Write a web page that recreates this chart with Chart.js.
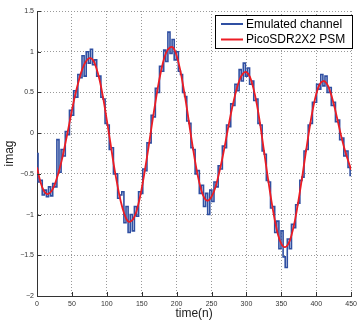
<!DOCTYPE html>
<html>
<head>
<meta charset="utf-8">
<script src="https://cdn.jsdelivr.net/npm/chart.js@4.4.0/dist/chart.umd.min.js"></script>
<style>
  body { margin: 0; background: #fff; }
  canvas { display: block; }
</style>
</head>
<body>
<canvas id="chart" width="361" height="321"></canvas>
<script>
// temps (n) des echantillons
const emulatedTime = [0,3,6,9,12,15,18,21,24,27,30,33,36,39,42,45,48,51,54,57,60,63,66,69,72,75,78,81,84,87,
  90,93,96,99,102,105,108,111,114,117,120,123,126,129,132,135,138,141,144,147,150,153,156,159,162,165,168,171,174,177,
  180,183,186,189,192,195,198,201,204,207,210,213,216,219,222,225,228,231,234,237,240,243,246,249,252,255,258,261,264,267,
  270,273,276,279,282,285,288,291,294,297,300,303,306,309,312,315,318,321,324,327,330,333,336,339,342,345,348,351,354,357,
  360,363,366,369,372,375,378,381,384,387,390,393,396,399,402,405,408,411,414,417,420,423,426,429,432,435,438,441,444,447,450];
const emulatedImag = [-0.25,-0.60,-0.58,-0.76,-0.70,-0.78,-0.66,-0.77,-0.62,-0.66,-0.08,-0.48,-0.20,-0.28,0.02,-0.02,0.28,0.22,0.52,0.44,
  0.72,0.68,0.95,0.70,1.00,0.86,1.03,0.84,0.90,0.70,0.70,0.44,0.42,0.12,0.10,-0.20,-0.18,-0.50,-0.50,-0.80,
  -0.76,-0.72,-1.10,-0.90,-1.22,-1.00,-1.20,-0.90,-1.02,-0.72,-0.74,-0.44,-0.46,-0.12,-0.12,0.22,0.20,0.55,0.50,0.82,
  0.76,1.02,0.88,1.24,0.98,1.15,0.90,1.00,0.76,0.72,0.50,0.45,0.15,0.12,-0.18,-0.20,-0.50,-0.46,-0.74,-0.64,
  -0.90,-0.74,-1.00,-0.70,-0.84,-0.60,-0.66,-0.40,-0.44,-0.16,-0.18,0.10,0.08,0.36,0.34,0.60,0.52,0.78,0.64,0.86,
  0.70,0.80,0.60,0.64,0.40,0.42,0.12,0.10,-0.22,-0.26,-0.58,-0.60,-0.92,-0.90,-1.22,-1.08,-1.42,-1.20,-1.52,-1.65,
  -1.30,-1.42,-1.12,-1.16,-0.88,-0.86,-0.58,-0.54,-0.22,-0.20,0.10,0.12,0.38,0.38,0.60,0.54,0.72,0.58,0.70,0.50,
  0.56,0.34,0.38,0.14,0.16,-0.08,-0.06,-0.28,-0.22,-0.42,-0.52];

const psmTime = [0,5,10,15,20,25,30,35,40,45,50,55,60,65,70,75,80,85,90,95,100,105,110,115,120,125,130,135,140,145,
  150,155,160,165,170,175,180,185,190,195,200,205,210,215,220,225,230,235,240,245,250,255,260,265,270,275,280,285,290,295,
  300,305,310,315,320,325,330,335,340,345,350,355,360,365,370,375,380,385,390,395,400,405,410,415,420,425,430,435,440,445,450];
const psmImag = [-0.42,-0.60,-0.71,-0.75,-0.72,-0.64,-0.51,-0.35,-0.15,0.06,0.28,0.48,0.65,0.79,0.88,0.92,0.90,0.80,0.64,0.42,
  0.16,-0.11,-0.39,-0.63,-0.84,-0.99,-1.08,-1.08,-1.02,-0.88,-0.68,-0.43,-0.16,0.13,0.40,0.65,0.85,0.99,1.05,1.05,
  0.95,0.78,0.55,0.29,0.00,-0.27,-0.51,-0.69,-0.80,-0.83,-0.78,-0.68,-0.52,-0.33,-0.11,0.12,0.33,0.51,0.65,0.73,
  0.75,0.69,0.55,0.35,0.09,-0.21,-0.51,-0.79,-1.04,-1.24,-1.36,-1.40,-1.36,-1.24,-1.05,-0.80,-0.53,-0.24,0.04,0.29,
  0.48,0.60,0.64,0.61,0.51,0.36,0.18,-0.01,-0.18,-0.32,-0.45];

const xTicks = [0, 50, 100, 150, 200, 250, 300, 350, 400, 450];
const yTicks = [-2, -1.5, -1, -0.5, 0, 0.5, 1, 1.5];

const fontFamily = '"Liberation Sans", Arial, Helvetica, sans-serif';

// petites graduations vers l'interieur, style matlab
const inwardTicks = {
  id: 'inwardTicks',
  afterDraw(chart) {
    const { ctx, chartArea, scales } = chart;
    ctx.save();
    ctx.strokeStyle = '#333';
    ctx.lineWidth = 1;
    ctx.beginPath();
    xTicks.forEach(v => {
      const px = Math.round(scales.x.getPixelForValue(v)) + 0.5;
      ctx.moveTo(px, chartArea.bottom);
      ctx.lineTo(px, chartArea.bottom - 4);
    });
    yTicks.forEach(v => {
      const py = Math.round(scales.y.getPixelForValue(v)) + 0.5;
      ctx.moveTo(chartArea.left, py);
      ctx.lineTo(chartArea.left + 4, py);
    });
    ctx.stroke();
    ctx.restore();
  }
};

// legende encadree en haut a droite
const boxLegend = {
  id: 'boxLegend',
  afterDraw(chart) {
    const ctx = chart.ctx;
    const x0 = 215.5, y0 = 15.5, w = 137, h = 33;
    ctx.save();
    ctx.fillStyle = '#fff';
    ctx.fillRect(x0, y0, w, h);
    ctx.strokeStyle = '#000';
    ctx.lineWidth = 1;
    ctx.strokeRect(x0, y0, w, h);
    ctx.font = '12px ' + fontFamily;
    ctx.textBaseline = 'middle';
    ctx.textAlign = 'left';
    chart.data.datasets.forEach((ds, i) => {
      const y = 24 + i * 15.5;
      ctx.strokeStyle = ds.borderColor;
      ctx.lineWidth = 2;
      ctx.beginPath();
      ctx.moveTo(221, y);
      ctx.lineTo(243, y);
      ctx.stroke();
      ctx.fillStyle = '#000';
      ctx.fillText(ds.label, 246, y + 0.5);
    });
    ctx.restore();
  }
};

const fmt = v => String(Math.round(v * 10) / 10).replace('-', '\u2212');

new Chart(document.getElementById('chart'), {
  type: 'line',
  data: {
    datasets: [
      {
        label: 'Emulated channel',
        data: emulatedTime.map((t, i) => ({ x: t, y: emulatedImag[i] })),
        borderColor: '#2f4fa2',
        borderWidth: 1.6,
        pointRadius: 0,
        stepped: 'middle',
        order: 2
      },
      {
        label: 'PicoSDR2X2 PSM',
        data: psmTime.map((t, i) => ({ x: t, y: psmImag[i] })),
        borderColor: '#ec1c24',
        borderWidth: 1.8,
        pointRadius: 0,
        tension: 0.4,
        order: 1
      }
    ]
  },
  options: {
    responsive: false,
    animation: false,
    layout: { padding: { top: 11, right: 8, left: 0, bottom: 0 } },
    plugins: { legend: { display: false }, tooltip: { enabled: false } },
    scales: {
      x: {
        type: 'linear',
        min: 0,
        max: 450,
        afterBuildTicks: s => { s.ticks = xTicks.map(v => ({ value: v })); },
        afterFit: s => { s.height = 25; },
        ticks: { font: { size: 7, family: fontFamily }, color: '#333', padding: 4, maxRotation: 0, callback: fmt },
        grid: { color: '#9a9a9a', drawTicks: false, lineWidth: 1 },
        border: { color: '#333', width: 1, dash: [1, 2] },
        title: { display: true, text: 'time(n)', font: { size: 12, family: fontFamily }, color: '#222', padding: { top: 0, bottom: 0 } }
      },
      y: {
        min: -2,
        max: 1.5,
        afterBuildTicks: s => { s.ticks = yTicks.map(v => ({ value: v })); },
        afterFit: s => { s.width = 37; },
        ticks: { font: { size: 7, family: fontFamily }, color: '#333', padding: 3, callback: fmt },
        grid: { color: '#9a9a9a', drawTicks: false, lineWidth: 1 },
        border: { color: '#333', width: 1, dash: [1, 2] },
        title: { display: true, text: 'imag', font: { size: 12, family: fontFamily }, color: '#222', padding: { top: 2, bottom: 0 } }
      }
    }
  },
  plugins: [inwardTicks, boxLegend]
});
</script>
</body>
</html>
